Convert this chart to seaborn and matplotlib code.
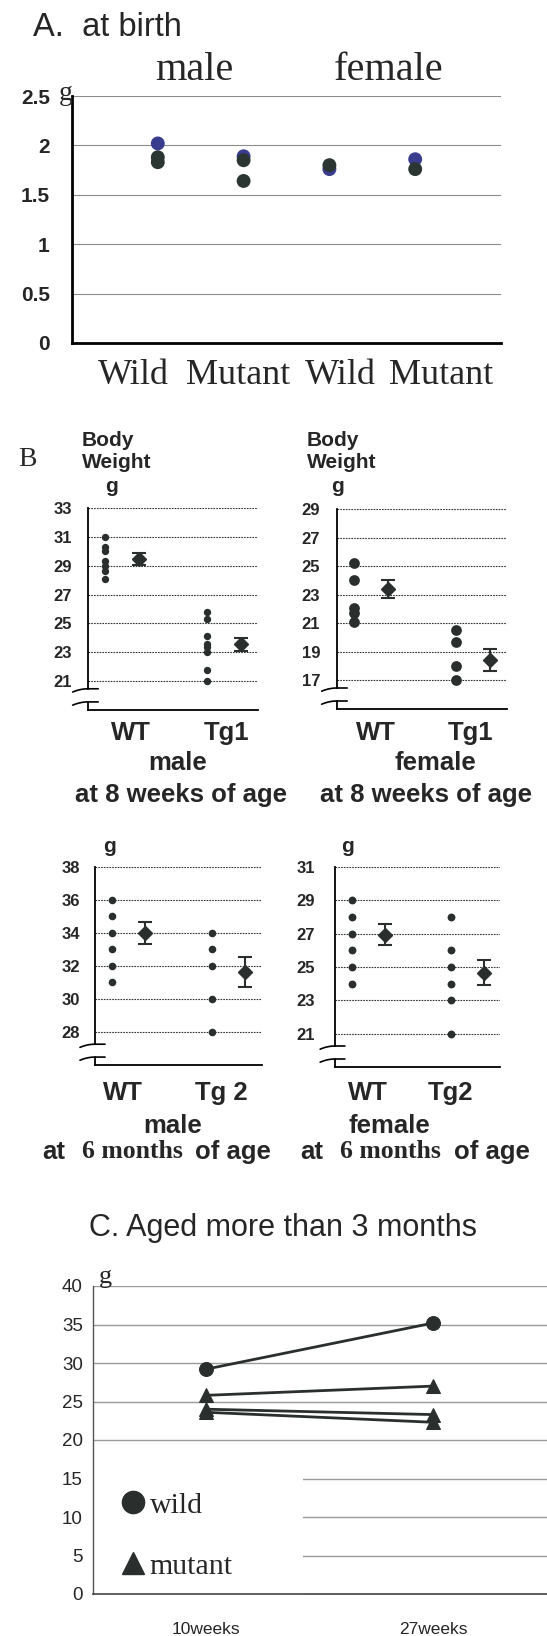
import numpy as np
import pandas as pd
import matplotlib
matplotlib.use("Agg")
import matplotlib.pyplot as plt
import seaborn as sns
from matplotlib.lines import Line2D

# ---- A. weight at birth (g) ----
birth_groups = ["male Wild", "male Mutant", "female Wild", "female Mutant"]
birth_labels = ["Wild", "Mutant", "Wild", "Mutant"]
birth_blue = [[2.02], [1.89], [1.76], [1.86]]
birth_dark = [[1.88, 1.83], [1.85, 1.64], [1.80], [1.76]]

# ---- B. body weight (g): single mice, then mean and SE ----
m8_wt = [31.0, 30.3, 30.0, 29.3, 29.0, 28.6, 28.1]
m8_tg = [25.8, 25.3, 24.1, 23.6, 23.4, 23.05, 21.8, 21.0]
m8_mean = [29.45, 23.55]
m8_se = [0.4, 0.47]

f8_wt = [25.2, 24.05, 22.05, 21.7, 21.1]
f8_tg = [20.55, 19.7, 18.0, 17.0]
f8_mean = [23.4, 18.45]
f8_se = [0.65, 0.76]

m6_wt = [36, 35, 34, 33, 32, 31]
m6_tg = [34, 33, 32, 30, 28]
m6_mean = [34.0, 31.65]
m6_se = [0.64, 0.9]

f6_wt = [29, 28, 27, 26, 25, 24]
f6_tg = [28, 26, 25, 24, 23, 21]
f6_mean = [26.95, 24.66]
f6_se = [0.6, 0.77]

# ---- C. aged mice, 10 and 27 weeks ----
c_weeks = ["10weeks", "27weeks"]
c_wild = [[29.2, 35.2]]
c_mutant = [[25.8, 27.0], [24.0, 23.3], [23.6, 22.3]]

sns.set_style("white")
plt.rcParams["font.family"] = ["Liberation Sans", "DejaVu Sans"]
SERIF = ["Liberation Serif", "DejaVu Serif"]
DARK = "#2a2f2d"

W, H = 547, 1636
fig = plt.figure(figsize=(W / 100, H / 100), dpi=100)


def rect(left, top, right, bottom):
    return [left / W, 1 - bottom / H, (right - left) / W, (bottom - top) / H]


def label(x, y, s, ha="center", **kw):
    fig.text(x / W, 1 - y / H, s, ha=ha, va="center", **kw)


# ================= panel A =================
ax = fig.add_axes(rect(72, 96, 501, 343))
rows = []
for i, g in enumerate(birth_groups):
    rows += [(g, i, v, "blue") for v in birth_blue[i]]
for i, g in enumerate(birth_groups):
    rows += [(g, i, v, "dark") for v in birth_dark[i]]
birth = pd.DataFrame(rows, columns=["group", "pos", "weight", "tone"])
sns.scatterplot(data=birth, x="pos", y="weight", hue="tone",
                palette={"blue": "#3a3d8e", "dark": "#2b3531"},
                s=100, linewidth=0, legend=False, ax=ax, zorder=3)
ax.set_xlim(-1, 4)
ax.set_ylim(0, 2.5)
ax.set_yticks([0, 0.5, 1, 1.5, 2, 2.5], ["0", "0.5", "1", "1.5", "2", "2.5"])
ax.set_xticks(range(5), [""] * 5)
ax.set_xlabel("")
ax.set_ylabel("")
ax.grid(axis="y", color="#8c8c8c", lw=0.8)
ax.tick_params(direction="in", length=7, width=1.8, color="black")
ax.tick_params(axis="y", pad=16, labelsize=15)
for t in ax.get_yticklabels():
    t.set_fontweight("bold")
for s in ["top", "right"]:
    ax.spines[s].set_visible(False)
for s in ["left", "bottom"]:
    ax.spines[s].set_linewidth(2)
    ax.spines[s].set_color("black")

label(33, 28, "A.  at birth", ha="left", fontsize=23.5)
label(194, 71, "male", fontsize=29, family=SERIF)
label(389, 71, "female", fontsize=29, family=SERIF)
label(66, 94, "g", fontsize=20, family=SERIF)
for x, s in zip([133, 238, 340, 441], birth_labels):
    label(x, 375, s, fontsize=26, family=SERIF)


# ================= panel B =================
def weight_panel(box, wt, tg, tg_name, mean, se, lo, hi, dot_s, pad, lab_x, lab_dy):
    ax = fig.add_axes(rect(*box))
    df = pd.DataFrame({"group": ["WT"] * len(wt) + [tg_name] * len(tg),
                       "weight": wt + tg})
    df["pos"] = df["group"].map({"WT": 0.5, tg_name: 3.5})
    sns.scatterplot(data=df, x="pos", y="weight", color=DARK, s=dot_s,
                    linewidth=0, legend=False, ax=ax, zorder=3)
    ax.errorbar([1.5, 4.5], mean, yerr=se, fmt="D", color=DARK, ms=7,
                capsize=4.7, elinewidth=1.5, capthick=1.5, zorder=3)
    ax.set_xlim(0, 5)
    ax.set_ylim(lo, hi)
    ax.set_yticks(np.arange(lo + 2, hi + 1, 2))
    ax.set_xticks(range(1, 6), [""] * 5)
    ax.set_xlabel("")
    ax.set_ylabel("")
    ax.grid(axis="y", color="#333333", lw=0.8, linestyle=(0, (1.5, 1)))
    ax.tick_params(axis="x", direction="in", length=3, width=1, color="black")
    ax.tick_params(axis="y", length=0, pad=pad, labelsize=12)
    for t in ax.get_yticklabels():
        t.set_fontweight("bold")
    for s in ["top", "right"]:
        ax.spines[s].set_visible(False)
    for s in ["left", "bottom"]:
        ax.spines[s].set_linewidth(1.3)
        ax.spines[s].set_color("black")
    # broken y axis
    span = hi - lo
    ax.spines["left"].set_bounds(lo + 0.105 * span, hi)
    ax.plot([0, 0], [0, 0.04], transform=ax.transAxes, clip_on=False,
            color="black", lw=1.3)
    t = np.linspace(0, 1, 40)
    xs = -0.09 + 0.15 * t
    for base in [0.105, 0.04]:
        ys = base - 0.016 * (1 - np.clip(t / 0.6, 0, 1)) ** 2
        ax.plot(xs, ys, transform=ax.transAxes, clip_on=False,
                color="black", lw=1.2)
    for x, s in zip(lab_x, ["WT", tg_name]):
        ax.annotate(s, xy=(x, 0), xycoords=("data", "axes fraction"),
                    xytext=(0, -lab_dy), textcoords="offset pixels",
                    ha="center", va="center", fontsize=18.5, fontweight="bold")
    return ax


weight_panel((88, 508, 258, 710), m8_wt, m8_tg, "Tg1", m8_mean, m8_se,
             19, 33, 28, 11.5, [1.26, 4.08], 23)
weight_panel((337, 509, 507, 709), f8_wt, f8_tg, "Tg1", f8_mean, f8_se,
             15, 29, 60, 12.2, [1.15, 3.94], 24)
weight_panel((95, 867, 262, 1065), m6_wt, m6_tg, "Tg 2", m6_mean, m6_se,
             26, 38, 30, 10.8, [0.84, 3.77], 28)
weight_panel((335, 867, 500, 1067), f6_wt, f6_tg, "Tg2", f6_mean, f6_se,
             19, 31, 32, 14.4, [1.0, 3.5], 26)

label(27, 460, "B", fontsize=20, family=SERIF)
for x0, gx in [(82, 111), (307, 337)]:
    label(x0, 440, "Body", ha="left", fontsize=15, fontweight="bold")
    label(x0, 463, "Weight", ha="left", fontsize=15, fontweight="bold")
    label(gx, 486, "g", fontsize=15, fontweight="bold")
label(110, 847, "g", fontsize=15, fontweight="bold")
label(348, 847, "g", fontsize=15, fontweight="bold")

label(178, 763, "male", fontsize=18.5, fontweight="bold")
label(181, 795, "at 8 weeks of age", fontsize=18.5, fontweight="bold")
label(435, 763, "female", fontsize=18.5, fontweight="bold")
label(426, 795, "at 8 weeks of age", fontsize=18.5, fontweight="bold")

label(173, 1126, "male", fontsize=18.5, fontweight="bold")
label(389, 1126, "female", fontsize=18.5, fontweight="bold")
for xa, xm, xo in [(42, 82, 195), (300, 340, 454)]:
    label(xa, 1152, "at", ha="left", fontsize=18.5, fontweight="bold")
    label(xm, 1152, "6 months", ha="left", fontsize=18.5, fontweight="bold",
          family=SERIF)
    label(xo, 1152, "of age", ha="left", fontsize=18.5, fontweight="bold")

# ================= panel C =================
ax = fig.add_axes(rect(92.5, 1286, 547, 1594))
rows = []
for k, w in enumerate(c_wild):
    rows += [("wild", f"w{k}", i, v) for i, v in enumerate(w)]
for k, w in enumerate(c_mutant):
    rows += [("mutant", f"m{k}", i, v) for i, v in enumerate(w)]
aged = pd.DataFrame(rows, columns=["genotype", "mouse", "pos", "weight"])
sns.lineplot(data=aged, x="pos", y="weight", units="mouse", estimator=None,
             style="genotype", markers={"wild": "o", "mutant": "^"},
             dashes=False, color=DARK, lw=2, markersize=10,
             markeredgecolor=DARK, legend=False, ax=ax)
ax.set_xlim(-0.5, 1.5)
ax.set_ylim(0, 40)
ax.set_yticks(range(0, 41, 5))
ax.set_xticks([0, 1], c_weeks)
ax.set_xticks([0.5], minor=True)
ax.set_xlabel("")
ax.set_ylabel("")
ax.grid(axis="y", color="#9a9a9a", lw=1)
ax.tick_params(axis="x", which="major", length=0, pad=20, labelsize=12.5)
ax.tick_params(axis="x", which="minor", direction="in", length=8, width=1,
               color="#444444")
ax.tick_params(axis="y", length=3, width=1, pad=4, labelsize=13.5,
               color="#555555")
for s in ["top", "right"]:
    ax.spines[s].set_visible(False)
ax.spines["left"].set_color("#555555")
ax.spines["left"].set_linewidth(1)
ax.spines["bottom"].set_color("#444444")
ax.spines["bottom"].set_linewidth(1.2)
for s in ["left", "bottom"]:
    ax.spines[s].set_zorder(6)

handles = [Line2D([], [], marker="o", ls="none", color=DARK, ms=16, label="wild"),
           Line2D([], [], marker="^", ls="none", color=DARK, ms=16, label="mutant")]
ax.legend(handles=handles, loc="center left", bbox_to_anchor=(0, 0.189, 0.464, 0),
          mode="expand", numpoints=1, frameon=True, facecolor="white",
          edgecolor="none", framealpha=1, fancybox=False,
          prop={"family": SERIF, "size": 21.5}, borderpad=0.5,
          handlelength=1.7, handletextpad=-0.28, labelspacing=1.13,
          borderaxespad=0)

label(283, 1228, "C. Aged more than 3 months", fontsize=22)
label(105, 1277, "g", fontsize=19, family=SERIF)

fig.savefig("out.png", dpi=100)
